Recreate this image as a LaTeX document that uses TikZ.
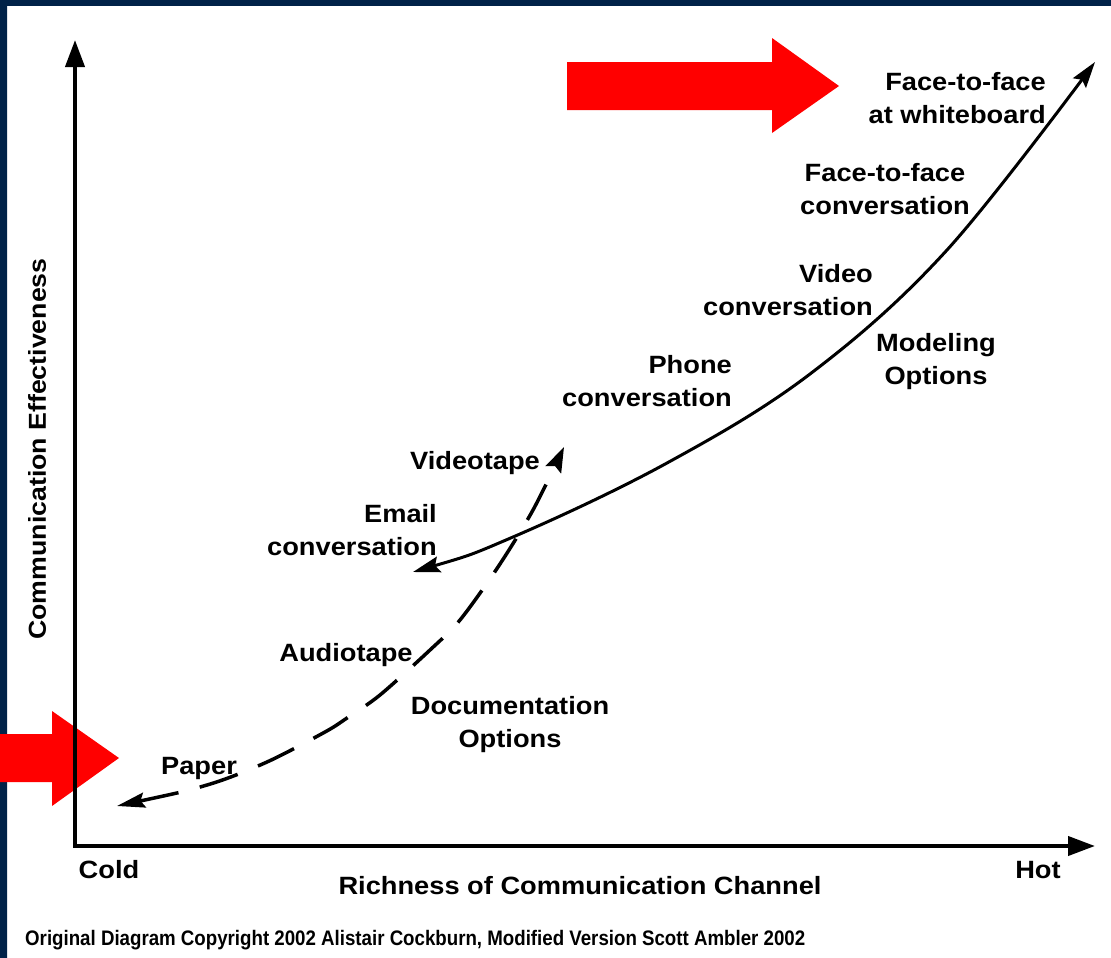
\documentclass[tikz,border=0pt]{standalone}
\usepackage{fontspec}
\setmainfont{Liberation Sans}[FakeStretch=1.09]
\newfontfamily\notefont{Liberation Sans}[FakeStretch=0.89]
\usetikzlibrary{arrows.meta}
\definecolor{framedark}{RGB}{0,34,72}
\definecolor{framelight}{RGB}{0,52,102}
\definecolor{pointer}{RGB}{255,0,0}

\begin{document}
\begin{tikzpicture}[x=1bp,y=-1bp,
  lbl/.style={font=\bfseries\fontsize{25bp}{33bp}\selectfont, inner sep=0pt, align=center},
  axisline/.style={line width=4bp, line join=miter,
    arrows={Triangle[length=27bp,width=19bp]-Triangle[length=27bp,width=19bp]}},
  richcurve/.style={line width=3bp,
    arrows={Stealth[length=27bp,width=16bp,inset=4bp]-Stealth[length=26bp,width=16bp,inset=4bp]}},
  doccurve/.style={line width=3.5bp, dash pattern=on 40bp off 22bp,
    arrows={Stealth[length=28bp,width=15bp,inset=4bp]-Stealth[length=25bp,width=17bp,inset=4bp]}},
  bigpointer/.style={fill=pointer}
]
\useasboundingbox (0,0) rectangle (1111,958);

% dark frame along the top and left edges
\fill[framedark] (0,0) rectangle (1111,6);
\shade[top color=framedark, middle color=framelight, bottom color=framedark]
  (0,0) rectangle (7,958);

% red pointers at the two ends of the scale
\fill[bigpointer] (567,62) -- (772,62) -- (772,38) -- (839,86) -- (772,133)
  -- (772,110) -- (567,110) -- cycle;
\fill[bigpointer] (0,734) -- (52,734) -- (52,711) -- (119,758) -- (52,806)
  -- (52,782) -- (0,782) -- cycle;

% axes
\coordinate (origin) at (75,846);
\coordinate (ytip) at (75,40);
\coordinate (xtip) at (1095,846);
\draw[axisline] (ytip) -- (origin) -- (xtip);

% interactive channels (solid) and documentation channels (dashed)
\coordinate (emailEnd) at (413,572);
\coordinate (boardEnd) at (1095,62);
\draw[richcurve] plot[smooth, tension=0.6] coordinates {(emailEnd) (513,537)
  (667,463) (810,374) (947,250) (boardEnd)};

\coordinate (paperEnd) at (117,806);
\coordinate (tapeEnd) at (564,447);
\draw[doccurve] plot[smooth] coordinates {(paperEnd) (207,785) (267,762) (325,732)
  (347,718) (380,695) (430,650) (460,620) (498,567) (533,510) (tapeEnd)};

% channel labels
\node[lbl, align=right, anchor=east] (whiteboard) at (1046,98) {Face-to-face\\at whiteboard};
\node[lbl] (facetoface) at (885,189.5) {Face-to-face\\conversation};
\node[lbl, align=right, anchor=east] (video) at (873,290) {Video\\conversation};
\node[lbl] (modeling) at (936,362) {Modeling\\Options};
\node[lbl, align=right, anchor=east] (phone) at (732,381) {Phone\\conversation};
\node[lbl, align=right, anchor=east] (email) at (437,530.5) {Email\\conversation};
\node[lbl] (videotape) at (475,463.5) {Videotape};
\node[lbl] (audiotape) at (346,655.5) {Audiotape};
\node[lbl] (documentation) at (510,724.5) {Documentation\\Options};
\node[lbl] (paper) at (199,768.5) {Paper};

% axis labels
\node[lbl] (cold) at (109,870) {Cold};
\node[lbl] (hot) at (1038,870) {Hot};
\node[lbl] (xname) at (580,886) {Richness of Communication Channel};
\node[lbl, font=\bfseries\fontsize{24.5bp}{30bp}\selectfont, rotate=90] (yname) at (37,449)
  {Communication Effectiveness};

% credit line
\node[anchor=west, inner sep=0pt, font=\notefont\bfseries\fontsize{21bp}{25bp}\selectfont]
  (credit) at (25,940.5)
  {Original Diagram Copyright 2002 Alistair Cockburn, Modified Version Scott Ambler 2002};
\end{tikzpicture}
\end{document}
